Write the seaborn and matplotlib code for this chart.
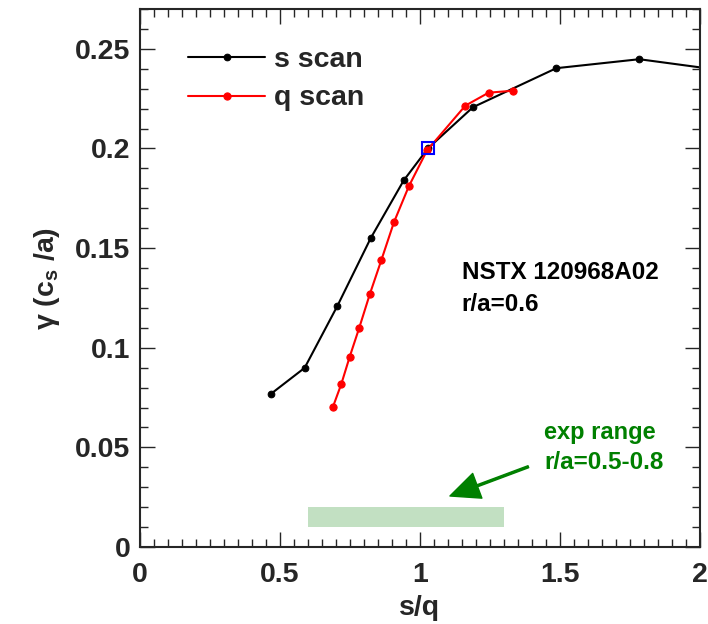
import matplotlib
matplotlib.use("Agg")
import matplotlib.pyplot as plt
from matplotlib.ticker import MultipleLocator
from matplotlib.patches import Rectangle
import seaborn as sns
import pandas as pd

# ---- data ----
s_scan_x = [0.469, 0.588, 0.705, 0.824, 0.942, 1.028, 1.189, 1.487, 1.783, 2.08]
s_scan_y = [0.077, 0.0899, 0.121, 0.155, 0.184, 0.2, 0.2207, 0.2403, 0.2448, 0.2392]
q_scan_x = [0.689, 0.719, 0.749, 0.783, 0.821, 0.862, 0.907, 0.960, 1.025, 1.162, 1.245, 1.333]
q_scan_y = [0.0703, 0.0818, 0.0955, 0.110, 0.127, 0.144, 0.163, 0.181, 0.199, 0.2215, 0.228, 0.229]
ref_point = (1.028, 0.2)
exp_range = (0.6, 1.3)
exp_band_y = (0.01, 0.02)
xticks = [0, 0.5, 1, 1.5, 2]
xticklabels = ["0", "0.5", "1", "1.5", "2"]
yticks = [0, 0.05, 0.1, 0.15, 0.2, 0.25]
yticklabels = ["0", "0.05", "0.1", "0.15", "0.2", "0.25"]

sns.set_style("ticks")
plt.rcParams["font.family"] = ["Liberation Sans", "DejaVu Sans"]
plt.rcParams["font.weight"] = "bold"
plt.rcParams["mathtext.fontset"] = "custom"
plt.rcParams["mathtext.rm"] = "Liberation Sans:bold"
plt.rcParams["mathtext.bf"] = "Liberation Sans:bold"
plt.rcParams["mathtext.it"] = "Liberation Sans:bold"

green = "#008000"

fig = plt.figure(figsize=(7.08, 6.24), dpi=100)
ax = fig.add_axes([140 / 708, 77 / 624, 560 / 708, 538 / 624])

df_s = pd.DataFrame({"x": s_scan_x, "y": s_scan_y})
df_q = pd.DataFrame({"x": q_scan_x, "y": q_scan_y})

sns.lineplot(data=df_s, x="x", y="y", ax=ax, color="black", lw=1.5,
             marker="o", ms=4.8, mec="black", sort=False, estimator=None,
             label="s scan")
sns.lineplot(data=df_q, x="x", y="y", ax=ax, color="red", lw=1.5,
             marker="o", ms=5.2, mec="red", sort=False, estimator=None,
             label="q scan")
ax.plot([ref_point[0]], [ref_point[1]], marker="s", ms=9, mfc="none",
        mec="blue", mew=1.5, zorder=5)

ax.add_patch(Rectangle((exp_range[0], exp_band_y[0]), exp_range[1] - exp_range[0],
                       exp_band_y[1] - exp_band_y[0], facecolor=green, alpha=0.24,
                       edgecolor="none"))
ax.annotate("", xy=(1.107, 0.0256), xytext=(1.387, 0.0403),
            arrowprops=dict(facecolor=green, edgecolor=green, width=1.5,
                            headwidth=19, headlength=21, shrink=0))
ax.text(1.443, 0.0541, "exp range", color=green, fontsize=17, fontweight="bold", va="baseline")
ax.text(1.443, 0.0392, "r/a=0.5-0.8", color=green, fontsize=17.5, fontweight="bold", va="baseline")
ax.text(1.149, 0.1344, "NSTX 120968A02", color="black", fontsize=17.5, fontweight="bold", va="baseline")
ax.text(1.149, 0.1186, "r/a=0.6", color="black", fontsize=17.5, fontweight="bold", va="baseline")

ax.set_xlim(0, 2)
ax.set_ylim(0, 0.27)
ax.set_xticks(xticks)
ax.set_xticklabels(xticklabels)
ax.set_yticks(yticks)
ax.set_yticklabels(yticklabels)
ax.xaxis.set_minor_locator(MultipleLocator(0.05))
ax.yaxis.set_minor_locator(MultipleLocator(0.01))
ax.tick_params(which="both", direction="in", top=True, right=True, labelsize=20.5, width=1.0)
ax.tick_params(which="major", length=11)
ax.tick_params(which="minor", length=5.5)
ax.tick_params(axis="x", pad=11)
ax.tick_params(axis="y", pad=7)
for sp in ax.spines.values():
    sp.set_linewidth(1.5)
    sp.set_visible(True)

ax.set_xlabel("s/q", fontsize=20.5, fontweight="bold", labelpad=5)
ax.set_ylabel(r"γ (c$_\mathregular{s}$ /a)", fontsize=20.5, fontweight="bold", labelpad=9)

ax.legend(loc="upper left", bbox_to_anchor=(0.086, 0.93), frameon=False,
          fontsize=20.5, handlelength=2.7, handletextpad=0.32, labelspacing=0.45,
          borderpad=0, borderaxespad=0)

fig.savefig("out.png", dpi=100)
